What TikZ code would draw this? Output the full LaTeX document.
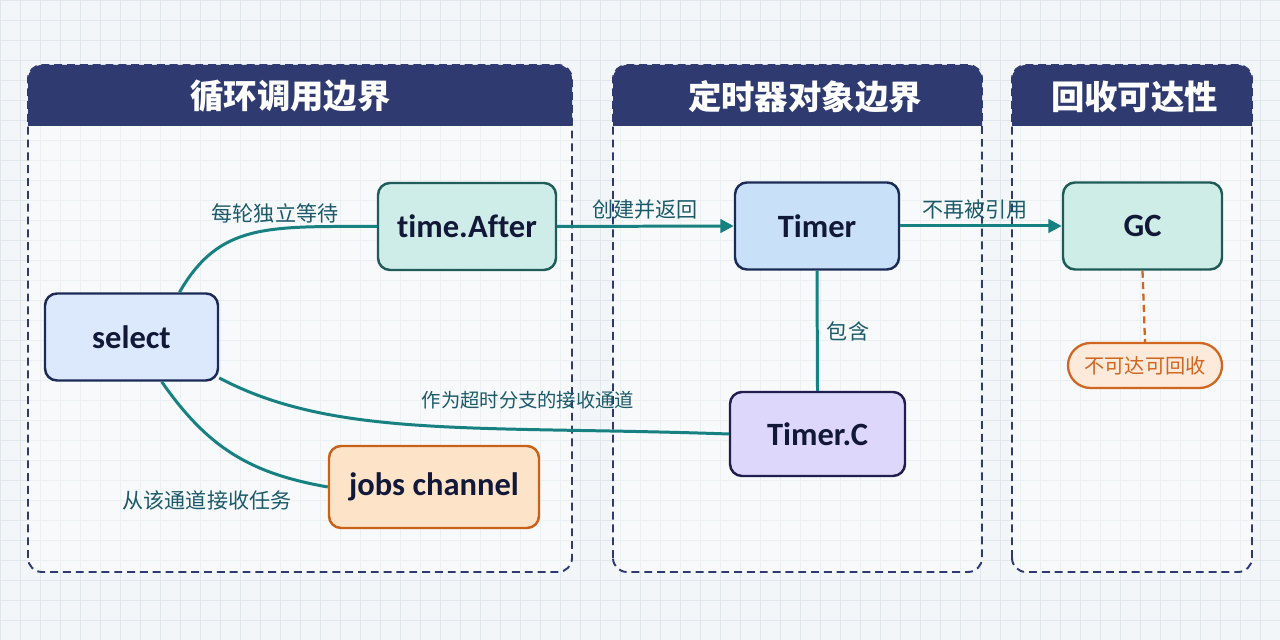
\documentclass[tikz,border=0pt]{standalone}
\usepackage{fontspec}
\usepackage{xcolor}
\usepackage{tikz}
\usetikzlibrary{shapes,arrows,positioning,calc,arrows.meta}
\newfontfamily\cjk{Noto Sans CJK SC}
\newfontfamily\lat{Carlito}[Ligatures=NoCommon]

\definecolor{paper}{HTML}{F3F6F8}
\definecolor{gridln}{HTML}{E1E8EC}
\definecolor{navy}{HTML}{2E3A70}
\definecolor{flow}{HTML}{178080}
\definecolor{flowtxt}{HTML}{1B5A69}
\definecolor{ink}{HTML}{121838}
\definecolor{orng}{HTML}{D0661F}

\tikzset{
    box/.style={draw, rounded corners=0.24cm, line width=1.4pt, inner sep=0pt,
        minimum height=1.74cm, text=ink, font=\lat\fontsize{18.5}{21}\selectfont\bfseries},
    lbl/.style={text=flowtxt, font=\cjk\fontsize{12}{14}\selectfont},
    link/.style={flow, line width=1.7pt},
    ttl/.style={text=white, font=\cjk\fontsize{19}{22}\selectfont\bfseries},
    zone/.style={navy, line width=1.1pt, dash pattern=on 4.5pt off 2.8pt, rounded corners=0.28cm},
}

\begin{document}
\begin{tikzpicture}
    \useasboundingbox (0,0) rectangle (25.6,12.8);
    \fill[paper] (0,0) rectangle (25.6,12.8);
    \draw[gridln, line width=0.4pt, step=0.4] (0,0) grid (25.6,12.8);

    % boundaries
    \fill[white, fill opacity=0.35, rounded corners=0.28cm] (0.56,1.36) rectangle (11.44,11.5);
    \fill[navy] (0.56,10.28) [rounded corners=0.28cm] -- (0.56,11.5) -- (11.44,11.5) [sharp corners] -- (11.44,10.28) -- cycle;
    \draw[zone] (0.56,1.36) rectangle (11.44,11.5);
    \node[ttl] (t1) at (5.81,10.87) {循环调用边界};

    \fill[white, fill opacity=0.35, rounded corners=0.28cm] (12.26,1.36) rectangle (19.64,11.5);
    \fill[navy] (12.26,10.28) [rounded corners=0.28cm] -- (12.26,11.5) -- (19.64,11.5) [sharp corners] -- (19.64,10.28) -- cycle;
    \draw[zone] (12.26,1.36) rectangle (19.64,11.5);
    \node[ttl] (t2) at (16.1,10.87) {定时器对象边界};

    \fill[white, fill opacity=0.35, rounded corners=0.28cm] (20.24,1.36) rectangle (25.04,11.5);
    \fill[navy] (20.24,10.28) [rounded corners=0.28cm] -- (20.24,11.5) -- (25.04,11.5) [sharp corners] -- (25.04,10.28) -- cycle;
    \draw[zone] (20.24,1.36) rectangle (25.04,11.5);
    \node[ttl] (t3) at (22.69,10.87) {回收可达性};

    % nodes
    \node[box, fill={rgb,255:red,220;green,233;blue,253}, draw={rgb,255:red,27;green,43;blue,85}, minimum width=3.46cm] (select) at (2.63,6.06) {select};
    \node[box, fill={rgb,255:red,207;green,237;blue,232}, draw={rgb,255:red,31;green,92;blue,90}, minimum width=3.56cm] (after) at (9.34,8.27) {time.After};
    \node[box, fill={rgb,255:red,200;green,225;blue,248}, draw={rgb,255:red,27;green,43;blue,85}, minimum width=3.28cm] (timer) at (16.34,8.28) {Timer};
    \node[box, fill={rgb,255:red,205;green,237;blue,230}, draw={rgb,255:red,30;green,91;blue,88}, minimum width=3.18cm] (gc) at (22.85,8.28) {GC};
    \node[box, fill={rgb,255:red,221;green,216;blue,251}, draw={rgb,255:red,34;green,29;blue,79}, minimum width=3.5cm, minimum height=1.68cm] (timerc) at (16.35,4.12) {Timer.C};
    \node[box, fill={rgb,255:red,253;green,228;blue,200}, draw={rgb,255:red,200;green,98;blue,26}, minimum width=4.2cm, minimum height=1.64cm] (jobs) at (8.68,3.06) {jobs channel};
    \node[draw=orng, fill={rgb,255:red,253;green,234;blue,219}, line width=1.3pt, rounded corners=0.45cm,
        minimum width=3.08cm, minimum height=0.9cm, inner sep=0pt, text=orng, font=\cjk\fontsize{11.5}{13}\selectfont] (unreach) at (22.9,5.49) {不可达可回收};

    % connectors
    \draw[link] (select.43) .. controls +(60:1.6) and +(180:2.2) .. (after.west);
    \draw[link] (select.-25) .. controls +(-28:2.6) and +(178:5) .. (timerc.west);
    \draw[link] (select.-56) .. controls +(-55:1.6) and +(170:1.6) .. (jobs.west);
    \draw[link, -{Triangle[length=0.27cm, width=0.27cm]}] (after.east) -- (timer.west);
    \draw[link, -{Triangle[length=0.27cm, width=0.27cm]}] (timer.east) -- (gc.west);
    \draw[link] (timer.south) -- (timerc.north);
    \draw[orng, line width=1.3pt, dash pattern=on 4pt off 2.5pt] (gc.south) -- (unreach.north);

    \node[lbl] (lwait) at (5.5,8.54) {每轮独立等待};
    \node[lbl] (lmake) at (12.9,8.6) {创建并返回};
    \node[lbl] (lfree) at (19.5,8.6) {不再被引用};
    \node[lbl] (lhold) at (16.96,6.18) {包含};
    \node[lbl, font=\cjk\fontsize{11}{13}\selectfont] (lcase) at (10.56,4.8) {作为超时分支的接收通道};
    \node[lbl] (ljobs) at (4.14,2.8) {从该通道接收任务};
\end{tikzpicture}
\end{document}
